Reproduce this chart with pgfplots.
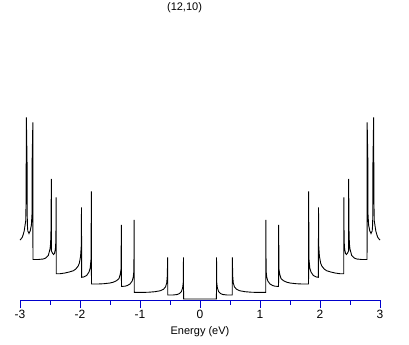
\documentclass[border=0pt]{standalone}
\usepackage{pgfplots}
\pgfplotsset{compat=1.18}
\usepackage{fontspec}
\setmainfont{Liberation Sans}
\definecolor{axblue}{RGB}{0,0,204}
\begin{document}
\fontsize{11bp}{13bp}\selectfont
\begin{tikzpicture}
\path[use as bounding box] (-20bp,-45bp) rectangle (389bp,300bp);
\begin{axis}[
  at={(0,0)}, anchor=south west,
  scale only axis, width=360bp, height=300bp,
  xmin=-3, xmax=3, ymin=-1, ymax=299,
  axis x line=bottom, axis y line=none,
  x axis line style={-, color=axblue, line width=0.8bp},
  xtick={-3,-2,-1,0,1,2,3}, minor x tick num=1,
  tick align=outside, major tick length=8bp, minor tick length=4.5bp,
  tick style={axblue, line width=0.8bp},
  xticklabel style={font=\fontsize{12bp}{14bp}\selectfont, inner sep=0pt, anchor=north, yshift=-2bp},
  /pgf/number format/assume math mode=true,
  xlabel={Energy (eV)},
  xlabel style={at={(axis description cs:0.5,-0.1033)}, anchor=center, yshift=-1bp, font=\fontsize{11bp}{13bp}\selectfont},
  clip=false,
]
\addplot[black, line width=0.9bp] coordinates {
(-3.000,59) (-2.983,60) (-2.960,62) (-2.944,65) (-2.930,68) (-2.917,73.3) (-2.905,78) (-2.899,95)
(-2.894,181.7) (-2.882,135) (-2.878,75) (-2.870,68) (-2.850,65.5) (-2.830,68) (-2.810,74) (-2.800,85)
(-2.797,140) (-2.786,176.7) (-2.784,39.5) (-2.700,39.5) (-2.611,40) (-2.570,41) (-2.528,43.5) (-2.500,50)
(-2.490,55) (-2.483,70) (-2.478,120) (-2.476,48) (-2.460,46) (-2.440,44.5) (-2.425,45.5) (-2.410,50)
(-2.402,58) (-2.397,101.7) (-2.395,25.3) (-2.330,25.3) (-2.250,26) (-2.180,27) (-2.110,28.3) (-2.070,30)
(-2.030,33) (-2.010,36) (-1.990,43) (-1.980,52) (-1.975,91.7) (-1.973,21.7) (-1.940,22) (-1.889,23.5)
(-1.850,27) (-1.830,31) (-1.816,40) (-1.811,107.7) (-1.809,15) (-1.700,15) (-1.600,15.3) (-1.500,16)
(-1.450,16.7) (-1.390,18.3) (-1.350,20.5) (-1.328,25) (-1.316,30) (-1.311,74) (-1.309,12.6) (-1.250,12.8)
(-1.210,13.5) (-1.167,15) (-1.130,18) (-1.112,22) (-1.102,28) (-1.097,79) (-1.095,6.6) (-0.950,6.6)
(-0.850,6.8) (-0.750,7.3) (-0.660,8.3) (-0.610,9.7) (-0.575,12) (-0.555,16) (-0.545,23) (-0.539,41.7)
(-0.537,4) (-0.450,4) (-0.380,4.5) (-0.340,5.5) (-0.310,7.5) (-0.290,11) (-0.280,16) (-0.275,41.7)
(-0.274,0) (0.274,0)
(0.275,41.7) (0.280,16) (0.290,11) (0.310,7.5) (0.340,5.5) (0.380,4.5) (0.450,4) (0.537,4)
(0.539,41.7) (0.545,23) (0.555,16) (0.575,12) (0.610,9.7) (0.660,8.3) (0.750,7.3) (0.850,6.8)
(0.950,6.6) (1.095,6.6) (1.097,79) (1.102,28) (1.112,22) (1.130,18) (1.167,15) (1.210,13.5)
(1.250,12.8) (1.309,12.6) (1.311,74) (1.316,30) (1.328,25) (1.350,20.5) (1.390,18.3) (1.450,16.7)
(1.500,16) (1.600,15.3) (1.700,15) (1.809,15) (1.811,107.7) (1.816,40) (1.830,31) (1.850,27)
(1.889,23.5) (1.940,22) (1.973,21.7) (1.975,91.7) (1.980,52) (1.990,43) (2.010,36) (2.030,33)
(2.070,30) (2.110,28.3) (2.180,27) (2.250,26) (2.330,25.3) (2.395,25.3) (2.397,101.7) (2.402,58)
(2.410,50) (2.425,45.5) (2.440,44.5) (2.460,46) (2.476,48) (2.478,120) (2.483,70) (2.490,55)
(2.500,50) (2.528,43.5) (2.570,41) (2.611,40) (2.700,39.5) (2.784,39.5) (2.786,176.7) (2.797,140)
(2.800,85) (2.810,74) (2.830,68) (2.850,65.5) (2.870,68) (2.878,75) (2.882,135) (2.894,181.7)
(2.899,95) (2.905,78) (2.917,73.3) (2.930,68) (2.944,65) (2.960,62) (2.983,60) (3.000,59)
};
\node[font=\fontsize{11bp}{13bp}\selectfont, inner sep=0pt, anchor=center] at (axis description cs:0.457,0.976) {(12,10)};
\end{axis}
\end{tikzpicture}
\end{document}
